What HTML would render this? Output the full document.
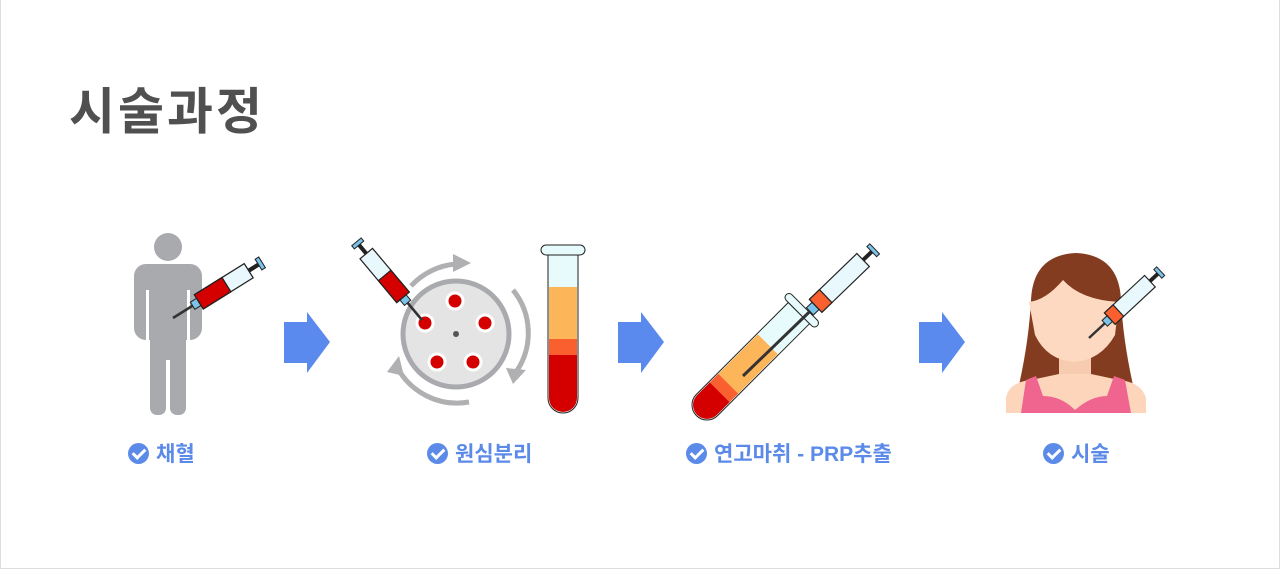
<!DOCTYPE html>
<html><head><meta charset="utf-8"><style>
html,body{margin:0;padding:0;background:#fff}
#w{position:relative;width:1280px;height:569px;overflow:hidden;box-sizing:border-box;border:1px solid #ddd;border-top:none}
.t{position:absolute;left:68px;top:72px;font:bold 50px "Liberation Sans","Noto Sans CJK KR",sans-serif;color:#505050;letter-spacing:3px}
.l{position:absolute;top:438px;font:bold 21px "Liberation Sans","Noto Sans CJK KR",sans-serif;color:#5b8ae8;white-space:nowrap;display:flex;align-items:center}
.l i{display:inline-block;width:21px;height:21px;border-radius:50%;background:#5b8ae8;margin-right:7px;position:relative}
.l i:after{content:"";position:absolute;left:7px;top:3px;width:5px;height:10px;border:solid #fff;border-width:0 3px 3px 0;transform:rotate(45deg)}
svg{position:absolute;left:0;top:0}
</style></head><body><div id="w">
<div class="t">시술과정</div>
<svg width="1280" height="569" viewBox="0 0 1280 569">
<defs>
<g id="arr"><path d="M0 10H23V0L46 30L23 61V51H0Z" fill="#5b8aee"/></g>
</defs>
<!-- person -->
<g fill="#a9aaad">
 <circle cx="167" cy="247" r="14"/>
 <rect x="133" y="264" width="68" height="76" rx="12"/>
 <rect x="149" y="300" width="36" height="60"/>
 <rect x="149" y="330" width="16" height="85" rx="7"/>
 <rect x="169" y="330" width="16" height="85" rx="7"/>
</g>
<rect x="145" y="290" width="3" height="50" fill="#fff"/><rect x="186" y="290" width="3" height="50" fill="#fff"/>
<g transform="translate(172,318) rotate(-32) scale(1.05)">
 <line x1="0" y1="0" x2="24" y2="0" stroke="#333" stroke-width="2.5"/>
 <rect x="22" y="-4" width="7" height="8" fill="#7cc3ea" stroke="#222"/>
 <rect x="29" y="-8" width="56" height="16" fill="#e8f8fc" stroke="#222" stroke-width="1.2"/>
 <rect x="29" y="-8" width="31" height="16" fill="#d40000" stroke="#222" stroke-width="1.2"/>
 <line x1="85" y1="0" x2="97" y2="0" stroke="#222" stroke-width="4"/>
 <rect x="96" y="-6" width="4" height="12" fill="#7cc3ea" stroke="#222"/>
</g>
<use href="#arr" x="283" y="312"/>
<!-- centrifuge -->
<g fill="none" stroke="#b0b0b2" stroke-width="5">
 <path d="M410 286 A68 68 0 0 1 455 264"/>
 <path d="M512 290 A68 68 0 0 1 515 372"/>
 <path d="M468 402 A68 68 0 0 1 395 365"/>
</g>
<g fill="#b0b0b2"><path d="M452 254L470 263L452 272Z"/><path d="M505 368L525 370L512 384Z"/><path d="M386 372L398 356L403 376Z"/></g>
<circle cx="455" cy="334" r="53" fill="#e4e4e4" stroke="#a9aaad" stroke-width="5"/>
<circle cx="455" cy="334" r="3" fill="#555"/>
<g fill="#d40000" stroke="#fff" stroke-width="3">
<circle cx="454" cy="301" r="8"/><circle cx="484" cy="323" r="8"/><circle cx="472" cy="362" r="8"/><circle cx="436" cy="362" r="8"/><circle cx="424" cy="323" r="8"/></g>
<g transform="translate(421,320) rotate(-130) scale(1.02)">
 <line x1="0" y1="0" x2="24" y2="0" stroke="#333" stroke-width="2.5"/>
 <rect x="22" y="-4" width="7" height="8" fill="#7cc3ea" stroke="#222"/>
 <rect x="29" y="-8" width="56" height="16" fill="#e8f8fc" stroke="#222" stroke-width="1.2"/>
 <rect x="29" y="-8" width="28" height="16" fill="#d40000" stroke="#222" stroke-width="1.2"/>
 <line x1="85" y1="0" x2="97" y2="0" stroke="#222" stroke-width="4"/>
 <rect x="96" y="-6" width="4" height="12" fill="#7cc3ea" stroke="#222"/>
</g>
<!-- tube -->
<g>
 <path d="M547 254V398a15 15 0 0 0 30 0V254Z" fill="#e8fbfc" stroke="#222"/>
 <rect x="548" y="287" width="28" height="52" fill="#fdb55a"/>
 <rect x="548" y="339" width="28" height="16" fill="#f95f2f"/>
 <path d="M548 355V398a14 14 0 0 0 28 0V355Z" fill="#d40000"/>
 <rect x="540" y="245" width="44" height="10" rx="5" fill="#e8fbfc" stroke="#222"/>
</g>
<use href="#arr" x="617" y="312"/>
<!-- tube 3 -->
<g transform="translate(706,405) rotate(-45)">
 <path d="M0 -15H130V15H0a15 15 0 0 1 0 -30Z" fill="#e8fbfc" stroke="#222"/>
 <rect x="28" y="-14" width="58" height="28" fill="#fdb55a"/>
 <rect x="18" y="-14" width="12" height="28" fill="#f95f2f"/>
 <path d="M18 -14H0a14 14 0 0 0 0 28H18Z" fill="#d40000"/>
 <rect x="130" y="-22" width="8" height="44" rx="4" fill="#e8fbfc" stroke="#222"/>
</g>
<g transform="translate(742,376) rotate(-44)">
 <line x1="0" y1="0" x2="95" y2="0" stroke="#333" stroke-width="3"/>
 <rect x="93" y="-5" width="8" height="10" fill="#7cc3ea" stroke="#222"/>
 <rect x="101" y="-9" width="66" height="18" fill="#e8f8fc" stroke="#222" stroke-width="1.2"/>
 <rect x="101" y="-9" width="14" height="18" fill="#f95f2f" stroke="#222" stroke-width="1.2"/>
 <line x1="167" y1="0" x2="180" y2="0" stroke="#222" stroke-width="4"/>
 <rect x="179" y="-7" width="4" height="14" fill="#7cc3ea" stroke="#222"/>
</g>
<use href="#arr" x="918" y="312"/>
<!-- woman -->
<path d="M1005 413 L1018 385 Q1028 340 1030 300 Q1032 255 1075 253 Q1118 255 1120 300 Q1122 340 1132 385 L1143 413Z" fill="#843c20"/>
<path d="M1058 330 H1090 V382 H1058Z" fill="#f6cbb0"/>
<path d="M1028 302 Q1045 300 1062 280 Q1080 300 1118 302 L1114 335 Q1100 360 1073 362 Q1046 360 1034 335Z" fill="#fcd9c0"/>
<path d="M1005 413 V398 Q1008 382 1030 380 L1058 374 H1090 L1118 380 Q1140 382 1145 398 V413Z" fill="#fcd5bb"/>
<path d="M1020 413 L1025 380 L1035 376 L1042 396 Q1060 396 1074 410 Q1090 396 1106 396 L1113 376 L1124 380 L1130 413Z" fill="#f06590"/>
<g transform="translate(1088,338) rotate(-43) scale(0.98)">
 <line x1="0" y1="0" x2="24" y2="0" stroke="#333" stroke-width="2.5"/>
 <rect x="22" y="-4" width="7" height="8" fill="#7cc3ea" stroke="#222"/>
 <rect x="29" y="-8" width="56" height="16" fill="#e8f8fc" stroke="#222" stroke-width="1.2"/>
 <rect x="29" y="-8" width="12" height="16" fill="#f95f2f" stroke="#222" stroke-width="1.2"/>
 <line x1="85" y1="0" x2="97" y2="0" stroke="#222" stroke-width="4"/>
 <rect x="96" y="-6" width="4" height="12" fill="#7cc3ea" stroke="#222"/>
</g>
</svg>
<div class="l" style="left:127px"><i></i>채혈</div>
<div class="l" style="left:426px"><i></i>원심분리</div>
<div class="l" style="left:685px"><i></i>연고마취 - PRP추출</div>
<div class="l" style="left:1042px"><i></i>시술</div>
</div></body></html>
